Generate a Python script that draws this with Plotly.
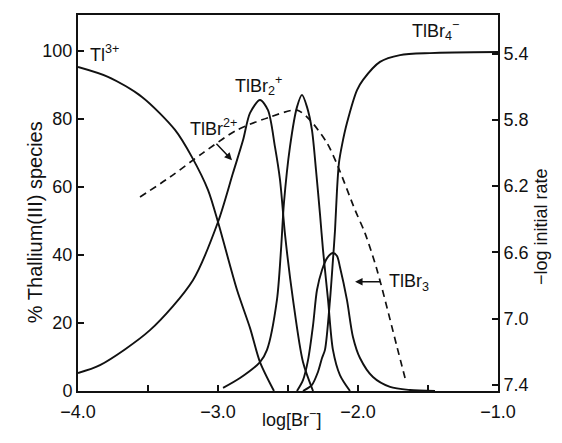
import plotly.graph_objects as go

# ---- data ----
tl3_x = [-4.0, -3.786, -3.543, -3.307, -3.186, -3.071, -3.0, -2.964, -2.864, -2.771, -2.7, -2.6]
tl3_y = [95.3, 92.4, 86.5, 76.8, 68.8, 59.1, 49.7, 44.4, 29.7, 18.5, 8.5, 0.0]

tlbr_x = [-4.0, -3.843, -3.486, -3.179, -3.0, -2.893, -2.821, -2.771, -2.7, -2.643, -2.593, -2.557, -2.521, -2.464, -2.393, -2.321]
tlbr_y = [5.3, 7.6, 17.9, 32.6, 49.7, 64.1, 73.8, 81.8, 85.6, 82.6, 71.8, 62.1, 45.9, 26.8, 8.5, 0.0]

tlbr2_x = [-2.964, -2.843, -2.7, -2.65, -2.579, -2.55, -2.529, -2.486, -2.436, -2.4, -2.364, -2.329, -2.3, -2.271, -2.25, -2.214, -2.179, -2.129, -2.057]
tlbr2_y = [0.9, 3.8, 8.5, 12.1, 26.8, 41.5, 55.3, 71.8, 83.5, 87.1, 83.5, 76.8, 65.0, 51.8, 41.5, 26.8, 12.1, 4.7, 0.0]

tlbr3_x = [-2.436, -2.393, -2.357, -2.321, -2.293, -2.257, -2.221, -2.179, -2.15, -2.129, -2.079, -2.036, -1.986, -1.893, -1.771, -1.629, -1.45]
tlbr3_y = [0.0, 3.2, 9.1, 19.4, 29.7, 35.6, 39.1, 40.6, 39.7, 36.5, 26.8, 15.9, 9.7, 4.1, 1.2, 0.3, 0.0]

tlbr4_x = [-2.393, -2.329, -2.286, -2.257, -2.236, -2.2, -2.179, -2.164, -2.15, -2.136, -2.114, -2.079, -2.007, -1.964, -1.843, -1.7, -1.486, -1.0]
tlbr4_y = [0.0, 1.8, 5.6, 9.7, 12.1, 26.8, 38.5, 47.4, 59.1, 67.1, 72.4, 78.8, 88.5, 91.5, 96.8, 98.8, 99.4, 99.7]

rate_x = [-3.557, -3.343, -3.107, -2.864, -2.629, -2.436, -2.343, -2.221, -2.143, -2.021, -1.95, -1.864, -1.721, -1.664]
rate_y = [6.265, 6.145, 5.999, 5.861, 5.783, 5.741, 5.801, 5.940, 6.081, 6.344, 6.483, 6.706, 7.171, 7.358]

x_tickvals = [-4.0, -3.5, -3.0, -2.5, -2.0, -1.5, -1.0]
x_ticktext = ["\u22124.0", "", "\u22123.0", "", "\u22122.0", "", "\u22121.0"]
yl_tickvals = [0, 20, 40, 60, 80, 100]
yr_tickvals = [5.4, 5.8, 6.2, 6.6, 7.0, 7.4]
yr_ticktext = ["5.4", "5.8", "6.2", "6.6", "7.0", "7.4"]

FONT = "Liberation Sans, Arial, sans-serif"
BLACK = "#111111"

fig = go.Figure()
line_style = dict(color=BLACK, width=1.9, shape="spline", smoothing=0.8)
for xs, ys in [(tl3_x, tl3_y), (tlbr_x, tlbr_y), (tlbr2_x, tlbr2_y), (tlbr3_x, tlbr3_y), (tlbr4_x, tlbr4_y)]:
    fig.add_trace(go.Scatter(x=xs, y=ys, mode="lines", line=line_style, showlegend=False, hoverinfo="skip"))

fig.add_trace(go.Scatter(x=rate_x, y=rate_y, mode="lines", yaxis="y2",
                         line=dict(color=BLACK, width=1.7, dash="7px,5px", shape="spline", smoothing=0.8),
                         showlegend=False, hoverinfo="skip"))

ann_font = dict(family=FONT, size=18, color=BLACK)
annotations = [
    dict(x=-3.93, y=99.4, text="Tl<sup>3+</sup>", xanchor="left", showarrow=False, font=ann_font),
    dict(x=-2.714, y=90.0, text="TlBr<sub>2</sub><sup>+</sup>", showarrow=False, font=ann_font),
    dict(x=-3.029, y=77.6, text="TlBr<sup>2+</sup>", showarrow=False, font=ann_font),
    dict(x=-1.45, y=105.9, text="TlBr<sub>4</sub><sup>\u2212</sup>", showarrow=False, font=ann_font),
    dict(x=-1.793, y=31.8, text="TlBr<sub>3</sub>", xanchor="left", showarrow=False, font=ann_font),
    dict(x=-2.9, y=67.9, text="", showarrow=True, ax=-17, ay=-18, arrowhead=2, arrowsize=1, arrowwidth=1.5, arrowcolor=BLACK),
    dict(x=-2.021, y=32.1, text="", showarrow=True, ax=27, ay=0, arrowhead=2, arrowsize=1, arrowwidth=1.5, arrowcolor=BLACK),
]
for a in annotations:
    a.setdefault("xref", "x")
    a.setdefault("yref", "y")

# axis titles as rotated/positioned text (paper coordinates)
annotations += [
    dict(xref="paper", yref="paper", x=-0.1333, y=0.449, text="% Thallium(III) species", textangle=-90,
         showarrow=False, font=dict(family=FONT, size=20, color=BLACK)),
    dict(xref="paper", yref="paper", x=1.131, y=0.436, text="\u2212log initial rate", textangle=-90,
         showarrow=False, font=dict(family=FONT, size=18, color=BLACK)),
    dict(xref="paper", yref="paper", x=0.5095, y=-0.109, text="log[Br<sup>\u2212</sup>]",
         showarrow=False, font=dict(family=FONT, size=18, color=BLACK)),
]

axis_common = dict(showline=True, linecolor=BLACK, linewidth=2, ticks="inside", ticklen=6,
                   tickwidth=1.6, tickcolor=BLACK, showgrid=False, zeroline=False, automargin=False,
                   tickfont=dict(family=FONT, size=18, color=BLACK))

# page body has an 8px margin; figure is sized so that the plot area sits at x 78-498, y 15-391
fig.update_layout(
    width=546, height=427,
    margin=dict(l=70, r=56, t=7, b=44),
    paper_bgcolor="white", plot_bgcolor="white",
    font=dict(family=FONT, size=18, color=BLACK),
    xaxis=dict(range=[-4.0, -1.0], tickvals=x_tickvals, ticktext=x_ticktext, mirror=True,
               ticklabelstandoff=3, **axis_common),
    yaxis=dict(range=[0, 110.6], tickvals=yl_tickvals, **axis_common),
    yaxis2=dict(range=[7.436, 5.167], tickvals=yr_tickvals, ticktext=yr_ticktext, overlaying="y", side="right",
                **axis_common),
    annotations=annotations,
)

fig.write_html("out.html")
